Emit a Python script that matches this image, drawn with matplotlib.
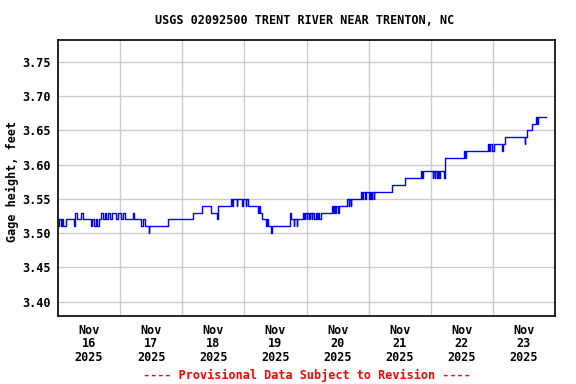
import numpy as np
import pandas as pd
import matplotlib
matplotlib.use("Agg")
import matplotlib.pyplot as plt
import matplotlib.dates as mdates

# Gage height readings (step changes), hours since 2025-11-16 00:00
hours = [0, 0.5, 1.0, 1.5, 2.0, 3.25, 6.25, 6.5, 7.25, 9.0, 9.5, 12.75, 13.25, 13.75,
         14.5, 15.0, 15.75, 16.75, 17.25, 18.0, 18.5, 19.5, 20.25, 21.0, 22.5, 23.0,
         24.5, 25.0, 25.75, 29.0, 29.25, 32.25, 33.0, 33.5, 35.0, 35.25, 42.5, 52.0,
         55.5, 59.25, 61.5, 62.0, 67.0, 67.25, 67.5, 69.0, 69.25, 71.25, 71.5, 72.5,
         72.75, 73.25, 77.25, 77.75, 78.0, 79.0, 80.5, 80.75, 81.25, 82.25, 82.5,
         89.75, 90.0, 91.0, 91.25, 92.25, 92.5, 94.75, 95.0, 95.5, 96.0, 96.25, 97.0,
         97.25, 98.0, 98.25, 99.0, 99.5, 100.0, 100.5, 101.0, 101.75, 105.75, 106.25,
         106.5, 107.0, 107.25, 108.25, 108.5, 111.75, 112.25, 112.5, 113.0, 113.25,
         117.0, 117.5, 117.75, 118.75, 119.0, 120.25, 120.5, 121.0, 121.25, 122.0,
         122.25, 129.0, 134.0, 140.25, 140.75, 141.0, 144.75, 145.0, 145.5, 145.75,
         146.5, 146.75, 147.25, 147.5, 149.25, 149.5, 157.0, 157.25, 157.75, 166.0,
         166.5, 166.75, 167.75, 168.25, 171.5, 171.75, 172.75, 180.25, 180.5, 181.0,
         183.0, 184.75, 185.0, 185.25, 188.5]
gage = [3.51, 3.52, 3.51, 3.52, 3.51, 3.52, 3.51, 3.53, 3.52, 3.53, 3.52, 3.51, 3.52, 3.51,
        3.52, 3.51, 3.52, 3.53, 3.52, 3.53, 3.52, 3.53, 3.52, 3.53, 3.52, 3.53,
        3.52, 3.53, 3.52, 3.53, 3.52, 3.51, 3.52, 3.51, 3.50, 3.51, 3.52, 3.53,
        3.54, 3.53, 3.52, 3.54, 3.55, 3.54, 3.55, 3.54, 3.55, 3.54, 3.55, 3.54,
        3.55, 3.54, 3.53, 3.54, 3.53, 3.52, 3.51, 3.52, 3.51, 3.50, 3.51,
        3.53, 3.52, 3.51, 3.52, 3.51, 3.52, 3.53, 3.52, 3.53, 3.52, 3.53, 3.52,
        3.53, 3.52, 3.53, 3.52, 3.53, 3.52, 3.53, 3.52, 3.53, 3.54, 3.53,
        3.54, 3.53, 3.54, 3.53, 3.54, 3.55, 3.54, 3.55, 3.54, 3.55,
        3.56, 3.55, 3.56, 3.55, 3.56, 3.55, 3.56, 3.55, 3.56, 3.55,
        3.56, 3.57, 3.58, 3.59, 3.58, 3.59, 3.58, 3.59, 3.58, 3.59,
        3.58, 3.59, 3.58, 3.59, 3.58, 3.61, 3.62, 3.61, 3.62, 3.63,
        3.62, 3.63, 3.62, 3.63, 3.62, 3.63, 3.64, 3.63, 3.64, 3.65,
        3.66, 3.67, 3.66, 3.67, 3.67]

start = pd.Timestamp("2025-11-16")
times = start + pd.to_timedelta(hours, unit="h")
day_labels = ["Nov\n16\n2025", "Nov\n17\n2025", "Nov\n18\n2025", "Nov\n19\n2025",
              "Nov\n20\n2025", "Nov\n21\n2025", "Nov\n22\n2025", "Nov\n23\n2025"]
yticks = [3.40, 3.45, 3.50, 3.55, 3.60, 3.65, 3.70, 3.75]

font = {"family": "DejaVu Sans Mono", "weight": "bold", "size": 8.5}

fig = plt.figure(figsize=(5.76, 3.84), dpi=100)
ax = fig.add_axes([58 / 576, 1 - 316 / 384, (555 - 58) / 576, (316 - 40) / 384])

ax.step(times, gage, where="post", color="#0000ff", linewidth=1.0)

ax.set_xlim(start, start + pd.Timedelta(days=8))
ax.set_ylim(3.379, 3.782)

noons = [start + pd.Timedelta(hours=12 + 24 * i) for i in range(8)]
midnights = [start + pd.Timedelta(days=i) for i in range(1, 8)]
ax.set_xticks(noons)
ax.set_xticklabels(day_labels, fontdict=font, linespacing=1.05)
ax.set_xticks(midnights, minor=True)
ax.set_yticks(yticks)
ax.set_yticklabels(["%.2f" % v for v in yticks], fontdict=font)

ax.grid(True, which="minor", axis="x", color="#cccccc", linewidth=1)
ax.grid(True, which="major", axis="y", color="#cccccc", linewidth=1)
ax.set_axisbelow(True)
ax.tick_params(which="both", length=0)
ax.tick_params(axis="x", pad=5.5)
ax.tick_params(axis="y", pad=5)
for s in ax.spines.values():
    s.set_linewidth(1.2)

fig.text(12 / 576, 1 - 181 / 384, "Gage height, feet", rotation=90,
         ha="center", va="center", **font)
fig.text(305 / 576, 1 - 20 / 384, "USGS 02092500 TRENT RIVER NEAR TRENTON, NC",
         ha="center", va="center", **font)
fig.text(307 / 576, 1 - 375 / 384, "---- Provisional Data Subject to Revision ----",
         ha="center", va="center", color="red", **font)

fig.savefig("out.png", dpi=100)
